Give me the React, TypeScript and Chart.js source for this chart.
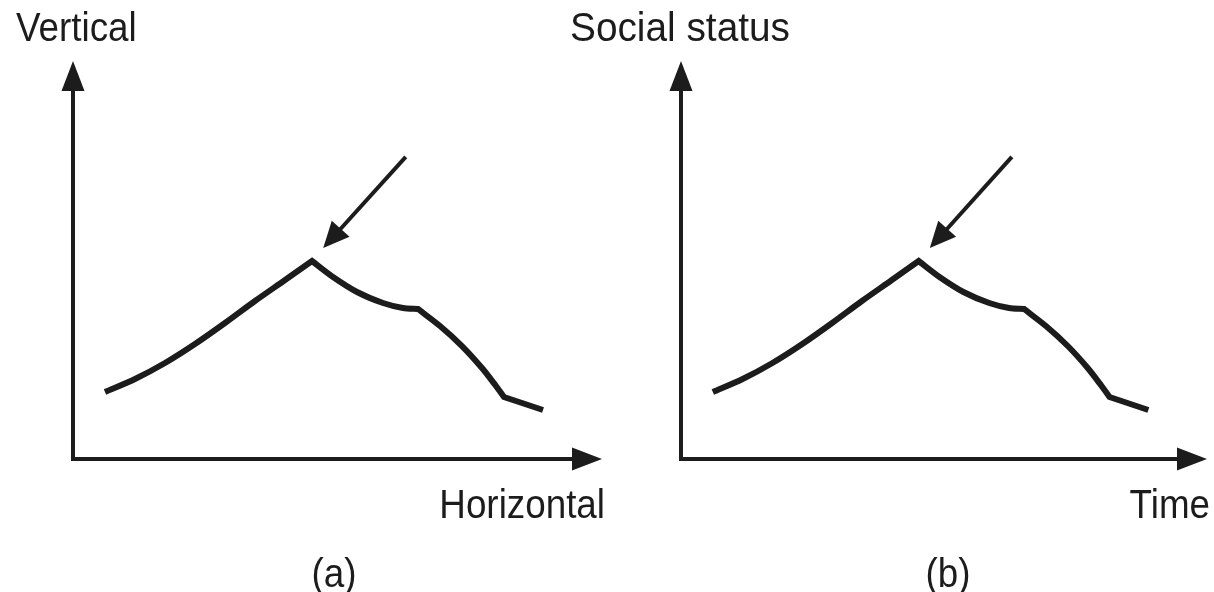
import React, { useEffect, useRef } from "react";
import { Chart, registerables } from "chart.js";

Chart.register(...registerables);

// ---- data (shared curve, plotted in both panels) ----
// corner points (peak, shoulder, knee) are listed twice so the smoothed line keeps a sharp corner there
const curveX = [6.05, 11.72, 17.39, 23.06, 28.73, 34.4, 40.08, 45.18, 45.18, 49.15, 53.69, 58.6, 62.38, 65.22, 65.22, 69.38, 73.53, 77.32, 79.96, 81.47, 81.47, 88.85];
const curveY = [16.83, 20.1, 24.12, 28.89, 34.17, 39.7, 44.97, 49.75, 49.75, 45.73, 41.96, 39.2, 37.94, 37.69, 37.69, 33.42, 28.39, 22.86, 18.34, 15.58, 15.58, 12.31];
const pointerFrom = [62.9, 75.9];
const pointerTo = [47.3, 53.0];
const yTitles = ["Vertical", "Social status"];
const xTitles = ["Horizontal", "Time"];
const captions = ["(a)", "(b)"];

// ---- layout / style ----
const INK = "#1c1c1c";
const FONT = '40px "Liberation Sans", Arial, Helvetica, sans-serif';
const TEXT_SCALE = 0.92;
const PANELS = [
  { left: 0, width: 607, padding: { left: 73, right: 5, top: 61, bottom: 133 }, yTitleDx: -57, yTitleScale: 0.92, captionDx: 261 },
  { left: 560, width: 654, padding: { left: 121, right: 7, top: 61, bottom: 133 }, yTitleDx: -111, yTitleScale: 0.97, captionDx: 267 },
];

function head(ctx: CanvasRenderingContext2D, x: number, y: number, angle: number, len: number, half: number) {
  ctx.save();
  ctx.translate(x, y);
  ctx.rotate(angle);
  ctx.beginPath();
  ctx.moveTo(0, 0);
  ctx.lineTo(-len, -half);
  ctx.lineTo(-len, half);
  ctx.closePath();
  ctx.fill();
  ctx.restore();
}

function text(ctx: CanvasRenderingContext2D, s: string, x: number, y: number, align: CanvasTextAlign, scale: number = TEXT_SCALE) {
  ctx.save();
  ctx.translate(x, y);
  ctx.scale(scale, 1);
  ctx.font = FONT;
  ctx.textAlign = align;
  ctx.textBaseline = "alphabetic";
  ctx.fillStyle = INK;
  ctx.fillText(s, 0, 0);
  ctx.restore();
}

function makeOverlay(index: number) {
  const p = PANELS[index];
  return {
    id: "sketchOverlay" + index,
    afterDraw(chart: any) {
      const ctx: CanvasRenderingContext2D = chart.ctx;
      const { left: L, right: R, top: T, bottom: B } = chart.chartArea;
      const xs = chart.scales.x;
      const ys = chart.scales.y;
      ctx.save();
      ctx.strokeStyle = INK;
      ctx.fillStyle = INK;
      // axes
      const aLen = 30;
      const aHalf = 11.5;
      ctx.lineWidth = 4;
      ctx.lineJoin = "miter";
      ctx.lineCap = "butt";
      ctx.beginPath();
      ctx.moveTo(L, T + aLen - 2);
      ctx.lineTo(L, B);
      ctx.lineTo(R - aLen + 2, B);
      ctx.stroke();
      head(ctx, L, T, -Math.PI / 2, aLen, aHalf);
      head(ctx, R, B, 0, aLen, aHalf);
      // pointer arrow
      const x1 = xs.getPixelForValue(pointerFrom[0]);
      const y1 = ys.getPixelForValue(pointerFrom[1]);
      const x2 = xs.getPixelForValue(pointerTo[0]);
      const y2 = ys.getPixelForValue(pointerTo[1]);
      const ang = Math.atan2(y2 - y1, x2 - x1);
      const pLen = 26;
      ctx.lineWidth = 4;
      ctx.beginPath();
      ctx.moveTo(x1, y1);
      ctx.lineTo(x2 - (pLen - 2) * Math.cos(ang), y2 - (pLen - 2) * Math.sin(ang));
      ctx.stroke();
      head(ctx, x2, y2, ang, pLen, 12);
      ctx.restore();
      // texts
      text(ctx, yTitles[index], L + p.yTitleDx, T - 20, "left", p.yTitleScale);
      text(ctx, xTitles[index], R + 3, B + 59, "right");
      text(ctx, captions[index], L + p.captionDx, B + 128, "center");
    },
  };
}

function Panel({ index }: { index: number }) {
  const ref = useRef<HTMLCanvasElement>(null);
  const p = PANELS[index];
  useEffect(() => {
    const chart = new Chart(ref.current as HTMLCanvasElement, {
      type: "line",
      data: {
        datasets: [
          {
            data: curveX.map((x, i) => ({ x, y: curveY[i] })),
            borderColor: INK,
            borderWidth: 6,
            pointRadius: 0,
            tension: 0.3,
            fill: false,
            borderJoinStyle: "miter",
            borderCapStyle: "butt",
          } as any,
        ],
      },
      options: {
        responsive: false,
        animation: false,
        events: [],
        layout: { padding: p.padding },
        plugins: { legend: { display: false }, tooltip: { enabled: false } },
        scales: {
          x: { type: "linear", min: 0, max: 100, display: false },
          y: { type: "linear", min: 0, max: 100, display: false },
        },
      },
      plugins: [makeOverlay(index)],
    });
    return () => chart.destroy();
  }, [index]);
  return (
    <canvas
      ref={ref}
      width={p.width}
      height={592}
      style={{ position: "absolute", left: p.left, top: 0, width: p.width, height: 592 }}
    />
  );
}

export default function App() {
  return (
    <div style={{ position: "fixed", left: 0, top: 0, width: 1214, height: 592, background: "#ffffff" }}>
      <Panel index={0} />
      <Panel index={1} />
    </div>
  );
}
